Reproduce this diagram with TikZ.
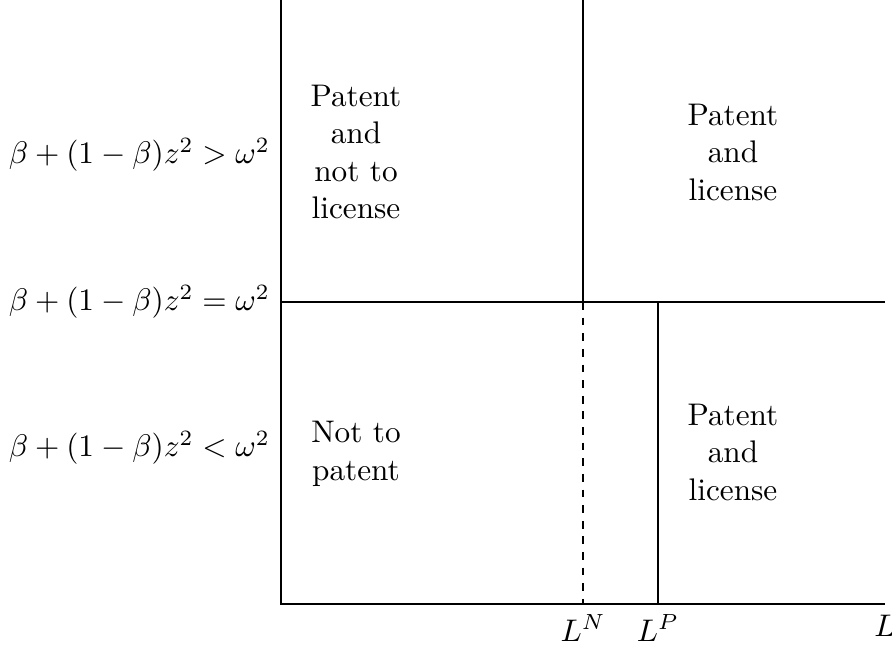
\documentclass[tikz,border=0pt]{standalone}
\begin{document}
\begin{tikzpicture}[x=0.32pt,y=-0.32pt,
  region/.style={align=center,font=\fontsize{10}{12}\selectfont},
  cond/.style={anchor=east},
  tick/.style={anchor=north},
  axis/.style={line width=0.4pt}]
\useasboundingbox (0,0) rectangle (892,648);
\coordinate (O) at (281,604);
\coordinate (Ytop) at (281,0);
\coordinate (Xend) at (885,604);
\coordinate (Mleft) at (281,302);
\coordinate (Mright) at (885,302);
\coordinate (Ntop) at (583,0);
\coordinate (Nmid) at (583,302);
\coordinate (Nbot) at (583,604);
\coordinate (Pmid) at (658,302);
\coordinate (Pbot) at (658,604);
\draw[axis] (Ytop) -- (O) -- (Xend);
\draw[axis] (Mleft) -- (Mright);
\draw[axis] (Ntop) -- (Nmid);
\draw[axis,dash pattern=on 2.5pt off 2.5pt] (Nmid) -- (Nbot);
\draw[axis] (Pmid) -- (Pbot);
\node[cond] (c1) at (281,155) {$\beta+(1-\beta)z^2>\omega^2$};
\node[cond] (c2) at (281,302) {$\beta+(1-\beta)z^2=\omega^2$};
\node[cond] (c3) at (281,448) {$\beta+(1-\beta)z^2<\omega^2$};
\node[tick] (LN) at (Nbot) {$L^N$};
\node[tick] (LP) at (Pbot) {$L^P$};
\node[tick] (L) at (Xend) {$L$};
\node[region] (r1) at (356,152) {Patent\\and\\not to\\license};
\node[region] (r2) at (733,152) {Patent\\and\\license};
\node[region] (r3) at (356,454) {Not to\\patent};
\node[region] (r4) at (733,452) {Patent\\and\\license};
\end{tikzpicture}
\end{document}
